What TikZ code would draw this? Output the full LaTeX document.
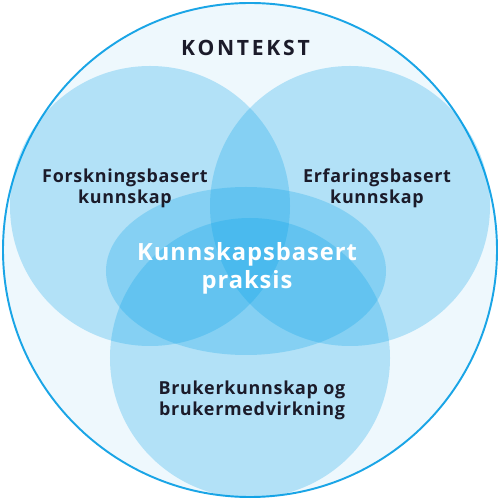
\documentclass[tikz,border=0pt]{standalone}
\usepackage{fontspec}
\setmainfont{Open Sans}
\newfontfamily\venfont{Open Sans}[LetterSpace=4]
\newfontfamily\kontfont{Open Sans}[LetterSpace=13]
\definecolor{ramme}{HTML}{1AA5E6}
\definecolor{bakgrunn}{HTML}{EEF8FD}
\definecolor{sirkel}{RGB}{0,160,233}
\definecolor{tekst}{HTML}{1B1B2A}
\begin{document}
\begin{tikzpicture}[
    felt/.style={fill=sirkel, fill opacity=0.25},
    etikett/.style={align=center, text=tekst, font={\venfont\bfseries\fontsize{10.2}{12}\selectfont}},
    midt/.style={align=center, text=white, font={\venfont\bfseries\fontsize{13.5}{16}\selectfont}},
]
\useasboundingbox (-5, -5) rectangle (5, 5);

% Ytre sirkel: konteksten
\draw[ramme, line width=1.1pt, fill=bakgrunn] (0, 0) circle (4.94);

% Tre kunnskapskilder
\fill[felt] (-2, 0.88) circle (2.8);
\fill[felt] (2, 0.88) circle (2.8);
\fill[felt] (0, -2.16) circle (2.8);

% Midten: praksis
\fill[felt] (-0.08, -0.42) ellipse (2.8 and 1.68);

% Tekster
\node[text=tekst, font={\kontfont\bfseries\fontsize{12}{14}\selectfont}] (kontekst) at (-0.09, 4.05) {KONTEKST};
\node[etikett] (forskning) at (-2.5, 1.24) {Forskningsbasert\\kunnskap};
\node[etikett] (erfaring) at (2.54, 1.24) {Erfaringsbasert\\kunnskap};
\node[etikett] (bruker) at (0.04, -3.0) {Brukerkunnskap og\\brukermedvirkning};
\node[midt] (praksis) at (-0.06, -0.37) {Kunnskapsbasert\\praksis};

\end{tikzpicture}
\end{document}
